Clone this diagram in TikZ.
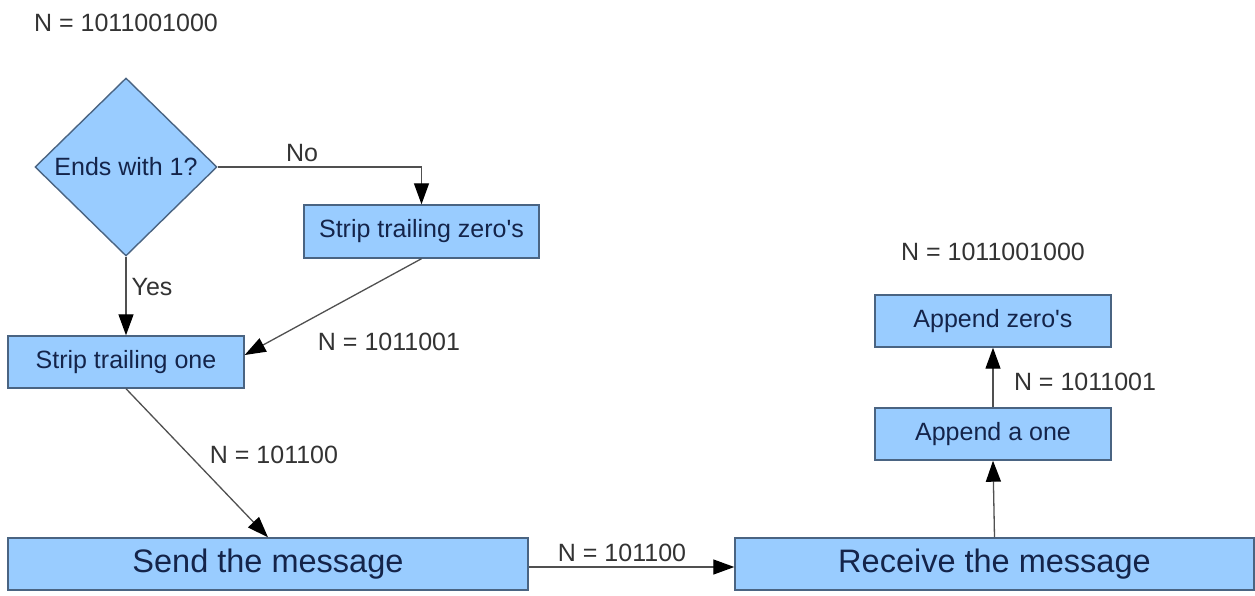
\documentclass[tikz,border=0pt]{standalone}
\usepackage{fontspec}
\setmainfont{Liberation Sans}
\usetikzlibrary{arrows.meta,shapes.geometric}
\definecolor{boxfill}{HTML}{99CCFF}
\definecolor{boxline}{HTML}{4A6482}
\definecolor{boxtext}{HTML}{14244A}
\definecolor{lbltext}{HTML}{333333}
\definecolor{conn}{HTML}{505050}
\tikzset{
  procbox/.style={draw=boxline, line width=1.4pt, fill=boxfill, text=boxtext,
    minimum width=236pt, minimum height=52pt, inner sep=0pt,
    font=\fontsize{25}{30}\selectfont},
  bigbox/.style={procbox, minimum width=520pt, font=\fontsize{32.5}{38}\selectfont},
  decide/.style={draw=boxline, line width=1.4pt, fill=boxfill, text=boxtext,
    shape=diamond, minimum width=182pt, minimum height=178pt, inner sep=0pt,
    aspect=1.02, font=\fontsize{25}{30}\selectfont},
  lbl/.style={text=lbltext, inner sep=0pt, font=\fontsize{25}{30}\selectfont},
  flow/.style={draw=conn, line width=1.3pt,
    -{Triangle[length=21pt,width=15pt,color=black]}},
}
\begin{document}
\begin{tikzpicture}[x=1pt,y=-1pt]
\useasboundingbox (0,0) rectangle (1255,595);
\fill[white] (0,0) rectangle (1255,595);

\node[lbl] (ntop) at (126,23) {N = 1011001000};
\node[decide] (dia) at (126,167) {Ends with 1?};
\node[procbox, minimum width=235pt, minimum height=53pt] (zero) at (421.5,231.5) {Strip trailing zero\textquotesingle s};
\node[procbox] (one) at (126,362) {Strip trailing one};
\node[bigbox] (send) at (268,564) {Send the message};
\node[bigbox, minimum width=519pt] (recv) at (994.5,564) {Receive the message};
\node[procbox] (aone) at (993,434) {Append a one};
\node[procbox] (azero) at (993,321) {Append zero\textquotesingle s};

\node[lbl] (lno) at (302,153) {No};
\node[lbl] (lyes) at (152,287) {Yes};
\node[lbl] (l1) at (389,342) {N = 1011001};
\node[lbl] (l2) at (274,455) {N = 101100};
\node[lbl] (l3) at (622,553) {N = 101100};
\node[lbl] (l4) at (993,252) {N = 1011001000};
\node[lbl] (l5) at (1085,382) {N = 1011001};

\draw[flow] (dia.east) -| (zero.north);
\draw[flow] (dia.south) -- (one.north);
\draw[flow] (zero.south) -- ([yshift=7pt]one.east);
\draw[flow] (one.south) -- (send.north);
\draw[flow] ([yshift=-3pt]send.east) -- ([yshift=-3pt]recv.west);
\draw[flow] (recv.north) -- (aone.south);
\draw[flow] (aone.north) -- (azero.south);
\end{tikzpicture}
\end{document}
